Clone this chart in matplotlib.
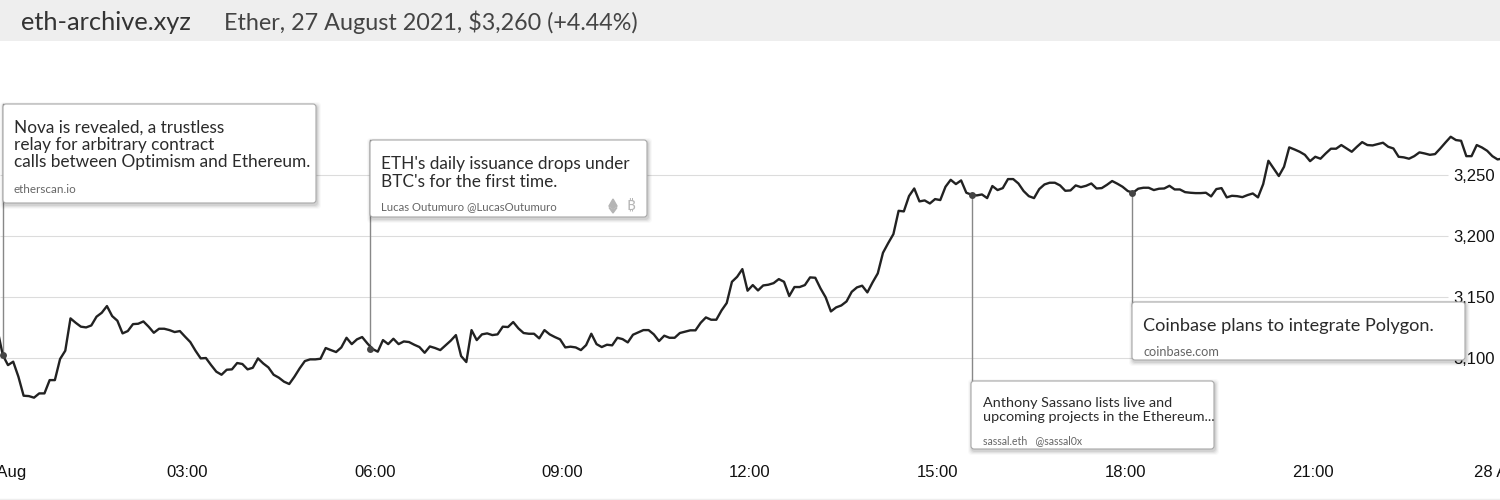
import pandas as pd
import matplotlib
matplotlib.use('Agg')
import matplotlib.pyplot as plt
from matplotlib.patches import FancyBboxPatch, Polygon, Rectangle

prices = [
    3123.2, 3102.7, 3094.5, 3097.3, 3085, 3069.4, 3069.1, 3067.8, 3071.3, 3071.3,
    3082.2, 3082.2, 3099.5, 3106.3, 3132.8, 3129.2, 3126, 3125.4, 3127, 3134.2,
    3137.4, 3142.9, 3134.7, 3130.9, 3120.5, 3122.4, 3128.1, 3128.4, 3130.3, 3126,
    3121, 3124.3, 3124.3, 3123.2, 3121.6, 3122.4, 3117.8, 3113.4, 3106.3, 3100,
    3100.3, 3094.5, 3089.1, 3086.6, 3090.7, 3091, 3096.2, 3095.4, 3091, 3092.3,
    3100, 3095.9, 3092.6, 3086.6, 3084.2, 3080.9, 3079, 3085, 3091.8, 3097.8,
    3099.2, 3099.2, 3099.7, 3108.5, 3106.8, 3105.2, 3109, 3116.9, 3111.7, 3115.6,
    3117.5, 3112.3, 3107.7, 3105.5, 3115, 3111.7, 3116.1, 3111.7, 3113.9, 3113.4,
    3111.2, 3109.3, 3104.6, 3109.8, 3108.5, 3106.8, 3110.7, 3114.5, 3119.1, 3101.9,
    3097, 3123.2, 3115, 3119.7, 3120.5, 3119.1, 3119.7,
    3126, 3125.7, 3129.8, 3124.6, 3120.8, 3120.2, 3120.2, 3116.4, 3123.2, 3119.7,
    3117.5, 3115.6, 3109, 3109.6, 3109, 3106.8, 3110.9, 3120.2, 3111.7, 3109.3,
    3111.2, 3110.7, 3116.9, 3115.8, 3113.1, 3119.4, 3121.3, 3123.2, 3123.2, 3119.7,
    3114.2, 3118.6, 3116.9, 3116.9, 3120.8, 3121.9, 3123, 3123, 3129.2, 3133.6,
    3131.7, 3131.7, 3139.3, 3145.4, 3162.8, 3166.9, 3173.2, 3155.5, 3160.1, 3155.7,
    3159.8, 3160.4, 3161.7, 3165, 3162.8, 3151.1, 3158.5, 3158.5, 3160.1, 3166.4,
    3166.1, 3157.4, 3150, 3138.5, 3141.8, 3143.4, 3146.7, 3154.6, 3158.2, 3159.6,
    3154.1, 3162.3, 3169.7, 3186.6, 3194.5, 3201.9, 3221, 3220.5, 3233.1, 3239.3,
    3228.7, 3229.5, 3227, 3230.6, 3229.8, 3240.7, 3246.4, 3242.9, 3245.9, 3235.8,
    3234.2, 3233.6, 3234.4, 3231.4, 3241.3, 3238,
    3239.6, 3247, 3247, 3243.4, 3237.2, 3233, 3231.4, 3238.8, 3242.6, 3244,
    3244, 3241.8, 3237.4, 3237.7, 3241.8, 3240.4, 3241.5, 3243.4, 3239.3, 3239.6,
    3242.3, 3245.4, 3243.2, 3240.7, 3237.2, 3235.8, 3239.1, 3239.9, 3239.9, 3238,
    3239.1, 3239.3, 3241.5, 3238.5, 3238.5, 3236.3, 3235.8, 3235.5, 3235.5, 3235.8,
    3232.8, 3238.8, 3239.6, 3232, 3233.3, 3233, 3232.2, 3233.9, 3235.2, 3232,
    3242.9, 3262, 3255.7, 3249.5, 3257.1, 3273, 3271.3, 3269.4, 3266.9, 3261.7,
    3265.3, 3263.7, 3268, 3271.9, 3271.9, 3274.9, 3272.1, 3269.4, 3273.5, 3277.3,
    3274.9, 3274.6, 3275.7, 3276.8, 3273.5, 3272.1, 3265.3, 3264.8, 3263.7, 3265.8,
    3268.9, 3268, 3266.9, 3267.5, 3272.1, 3277, 3281.7, 3279, 3278.4, 3265.8,
    3265.8, 3274.9, 3272.9, 3270.2, 3265.8, 3263.1, 3263.9,
]
times = pd.date_range('2021-08-26 23:57:40', periods=len(prices), freq='5min')

event_times = pd.to_datetime(['2021-08-27 00:03', '2021-08-27 05:55', '2021-08-27 15:33', '2021-08-27 18:07'])
event_prices = [3102.7, 3107.7, 3234.2, 3235.8]

y_ticks = [3100, 3150, 3200, 3250]
x_ticks = pd.date_range('2021-08-27 00:00', '2021-08-28 00:00', freq='3h')
x_labels = ['27 Aug', '03:00', '06:00', '09:00', '12:00', '15:00', '18:00', '21:00', '28 Aug']

site_name = 'eth-archive.xyz'
headline = 'Ether, 27 August 2021, $3,260 (+4.44%)'

DARK = '#2b2b2b'
SOURCE = '#666666'
NOTE_FONT = ['Lato', 'DejaVu Sans']
TICK_FONT = ['Liberation Sans', 'DejaVu Sans']
BTC_FONT = ['Noto Sans', 'Roboto', 'Inter', 'Open Sans', 'Noto Sans CJK SC', 'Liberation Sans', 'DejaVu Sans']

fig = plt.figure(figsize=(15, 5), dpi=100, facecolor='white')

# price axes, top at 41px and bottom at 455px
ax = fig.add_axes([0, 45 / 500, 1, 414 / 500])
ax.patch.set_alpha(0)
ax.set_xlim(x_ticks[0], x_ticks[-1])
ax.set_ylim(3020.8, 3360.2)
for side in ax.spines.values():
    side.set_visible(False)

ax.hlines(y_ticks, 0, 0.965, color='#dcdcdc', linewidth=0.8, transform=ax.get_yaxis_transform(), zorder=1)
ax.plot(times, prices, color='#222222', linewidth=1.7, solid_joinstyle='round', zorder=3)

ax.set_xticks(x_ticks)
ax.set_xticklabels(x_labels, fontsize=12, family=TICK_FONT, color='#111111')
ax.tick_params(axis='x', length=0, pad=7)
ax.yaxis.tick_right()
ax.set_yticks(y_ticks)
ax.set_yticklabels([f'{v:,}' for v in y_ticks], fontsize=12, family=TICK_FONT, color='#111111', ha='right')
ax.tick_params(axis='y', length=0, pad=-3.5)

# connectors run from the event on the line to its card
card_edges = [104, 140, 385, 306]
for when, price, edge in zip(event_times, event_prices, card_edges):
    ax.plot([when, when], [price, 3020.8 + (455 - edge) / 1.22], color='#888888', linewidth=1, zorder=2)
    ax.plot(when, price, 'o', color='#444444', markersize=5, markeredgewidth=0, zorder=4)

# page furniture in pixel coordinates
ui = fig.add_axes([0, 0, 1, 1])
ui.set_xlim(0, 1500)
ui.set_ylim(500, 0)
ui.axis('off')
ui.patch.set_alpha(0)

ui.add_patch(Rectangle((0, 0), 1500, 41, color='#eeeeee', linewidth=0))
ui.plot([0, 1500], [499, 499], color='#eeeeee', linewidth=1)
ui.text(21, 22, site_name, fontsize=18.3, family=NOTE_FONT, color='#333333', va='center')
ui.text(224, 22, headline, fontsize=16.8, family=NOTE_FONT, color='#444444', va='center')


def card(x0, y0, x1, y1):
    for grow, alpha in [(4, 0.025), (3, 0.04), (2, 0.05), (1, 0.07)]:
        ui.add_patch(FancyBboxPatch((x0 + 1 - grow, y0 + 2 - grow), x1 - x0 + 2 * grow, y1 - y0 + 2 * grow,
                                    boxstyle='round,pad=0,rounding_size=4', facecolor='black',
                                    edgecolor='none', alpha=alpha, zorder=5))
    ui.add_patch(FancyBboxPatch((x0, y0), x1 - x0, y1 - y0, boxstyle='round,pad=0,rounding_size=3',
                                facecolor='white', edgecolor='#a8a8a8', linewidth=0.8, zorder=6))


def note(x, y, s, size, color=DARK):
    ui.text(x, y + 0.7, s, fontsize=size, family=NOTE_FONT, color=color, va='center', zorder=7)


card(3, 104, 316, 203)
note(14, 127, 'Nova is revealed, a trustless', 12.4)
note(14, 144, 'relay for arbitrary contract', 12.4)
note(14, 161, 'calls between Optimism and Ethereum.', 12.4)
note(14, 189, 'etherscan.io', 8.4, SOURCE)

card(370, 140, 647, 217)
note(381, 163, "ETH's daily issuance drops under", 12.4)
note(381, 181, "BTC's for the first time.", 12.4)
note(381, 206, 'Lucas Outumuro @LucasOutumuro', 8.2, SOURCE)
ui.add_patch(Polygon([(613, 199), (617, 206), (613, 208.5), (609, 206)], color='#b5b5b5', zorder=7))
ui.add_patch(Polygon([(609, 207.5), (613, 210), (617, 207.5), (613, 213)], color='#b5b5b5', zorder=7))
ui.text(631, 206, '\u20bf', fontsize=11, family=BTC_FONT, color='#b5b5b5', ha='center', va='center', zorder=7)

card(971, 381, 1214, 449)
note(983, 402, 'Anthony Sassano lists live and', 10.4)
note(983, 416, 'upcoming projects in the Ethereum...', 10.4)
note(983, 440, 'sassal.eth   @sassal0x', 7.6, SOURCE)

card(1132, 302, 1465, 360)
note(1143, 325, 'Coinbase plans to integrate Polygon.', 13.1)
note(1143, 351, 'coinbase.com', 9.2, SOURCE)

plt.savefig('out.png', dpi=100, facecolor=fig.get_facecolor())
